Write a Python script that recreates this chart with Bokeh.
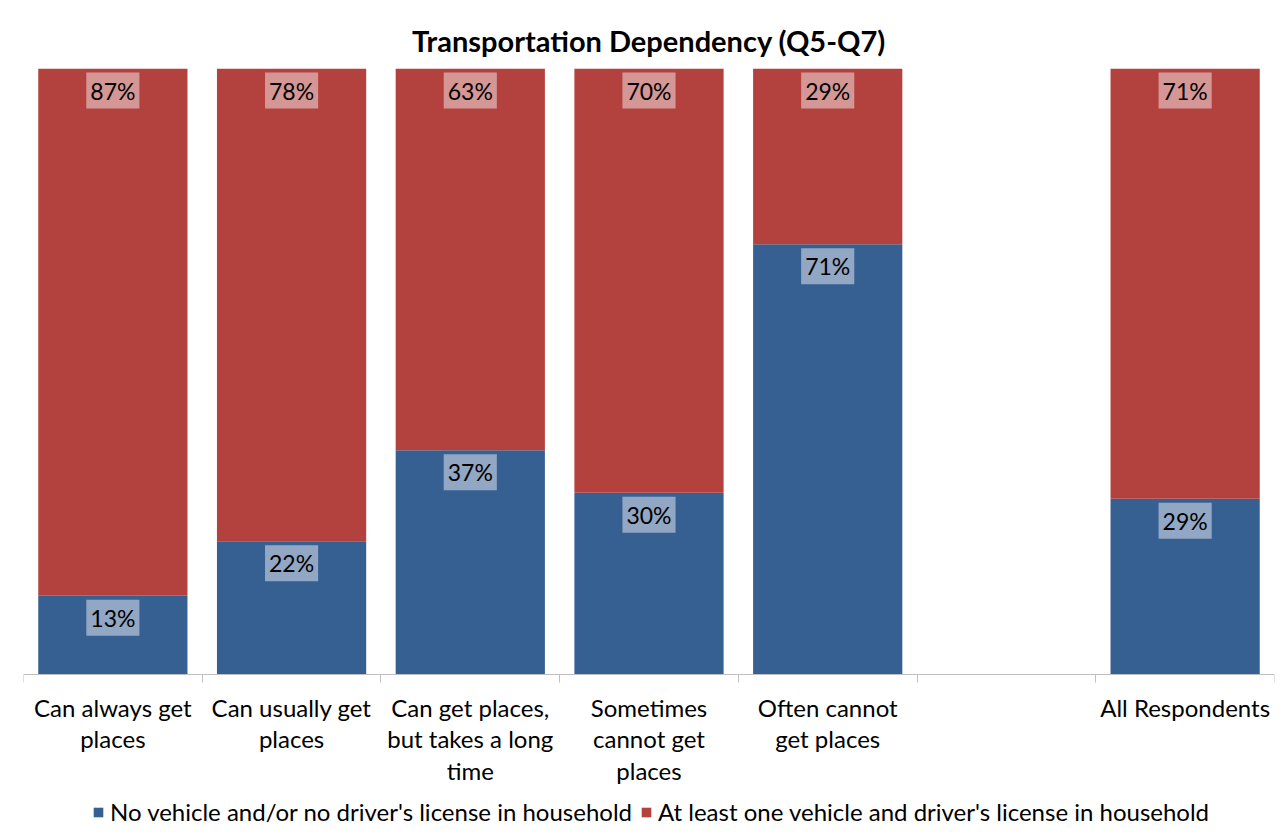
from bokeh.plotting import figure
from bokeh.models import ColumnDataSource, Range1d, FixedTicker, Legend, LegendItem
from bokeh.core.properties import value
from bokeh.embed import file_html
from bokeh.resources import INLINE
import numpy as np

categories = ["Can always get\nplaces", "Can usually get\nplaces", "Can get places,\nbut takes a long\ntime",
              "Sometimes\ncannot get\nplaces", "Often cannot\nget places", "", "All Respondents"]
no_vehicle = [13, 22, 37, 30, 71, 0, 29]
with_vehicle = [87, 78, 63, 70, 29, 0, 71]
series_names = ["No vehicle and/or no driver's license in household",
                "At least one vehicle and driver's license in household"]

BLUE = "#376092"
RED = "#B3423F"
FONT = "Lato"

xc = np.arange(len(categories)) + 0.5
src = ColumnDataSource(dict(
    x=xc,
    nv=no_vehicle,
    wv=with_vehicle,
    top=[a + b for a, b in zip(no_vehicle, with_vehicle)],
    nv_lab=[f"{v}%" if (v or w) else "" for v, w in zip(no_vehicle, with_vehicle)],
    wv_lab=[f"{w}%" if (v or w) else "" for v, w in zip(no_vehicle, with_vehicle)],
))

# frame covers bars (606 px for 0..100) plus the 162 px area under the axis
p = figure(frame_width=1251, frame_height=768, output_backend="svg", toolbar_location=None,
           x_range=Range1d(0, len(categories)), y_range=Range1d(-100 * 162 / 606, 100),
           min_border_left=23, min_border_right=14, min_border_top=68, min_border_bottom=0,
           title="Transportation Dependency (Q5-Q7)")
p.title.align = "center"
p.title.text_font = FONT
p.title.text_font_size = "29px"
p.title.text_font_style = "bold"
p.title.text_color = "#000000"
p.title.standoff = 22

r1 = p.vbar(x="x", bottom=0, top="nv", width=0.835, source=src, fill_color=BLUE, line_color=None)
r2 = p.vbar(x="x", bottom="nv", top="top", width=0.835, source=src, fill_color=RED, line_color=None)

for col, lab in (("nv", "nv_lab"), ("top", "wv_lab")):
    p.text(x="x", y=col, text=lab, source=src, text_align="center", text_baseline="middle",
           y_offset=22, text_font=value(FONT), text_font_size="23px", text_color="#000000",
           background_fill_color="white", background_fill_alpha=0.45, padding=4)

p.yaxis.visible = False
p.grid.visible = False
p.outline_line_color = None

ax = p.xaxis[0]
ax.fixed_location = 0
ax.ticker = FixedTicker(ticks=list(xc), minor_ticks=list(range(len(categories) + 1)))
ax.major_label_overrides = {float(x): c for x, c in zip(xc, categories)}
ax.major_tick_line_color = None
ax.minor_tick_line_color = "#BFBFBF"
ax.minor_tick_out = 8
ax.minor_tick_in = 0
ax.axis_line_color = "#BFBFBF"
ax.major_label_text_font = FONT
ax.major_label_text_font_size = "24px"
ax.major_label_text_color = "#000000"
ax.major_label_text_line_height = 1.1
ax.major_label_standoff = 10

legend = Legend(items=[LegendItem(label=series_names[0], renderers=[r1]),
                       LegendItem(label=series_names[1], renderers=[r2])],
                orientation="horizontal", location=(69, 10),
                label_text_font=FONT, label_text_font_size="24px", label_text_color="#000000",
                glyph_width=12, glyph_height=12, label_standoff=6, spacing=8,
                border_line_color=None, background_fill_alpha=0, padding=2, margin=0)
p.add_layout(legend, "center")

open("out.html", "w").write(file_html(p, INLINE))
